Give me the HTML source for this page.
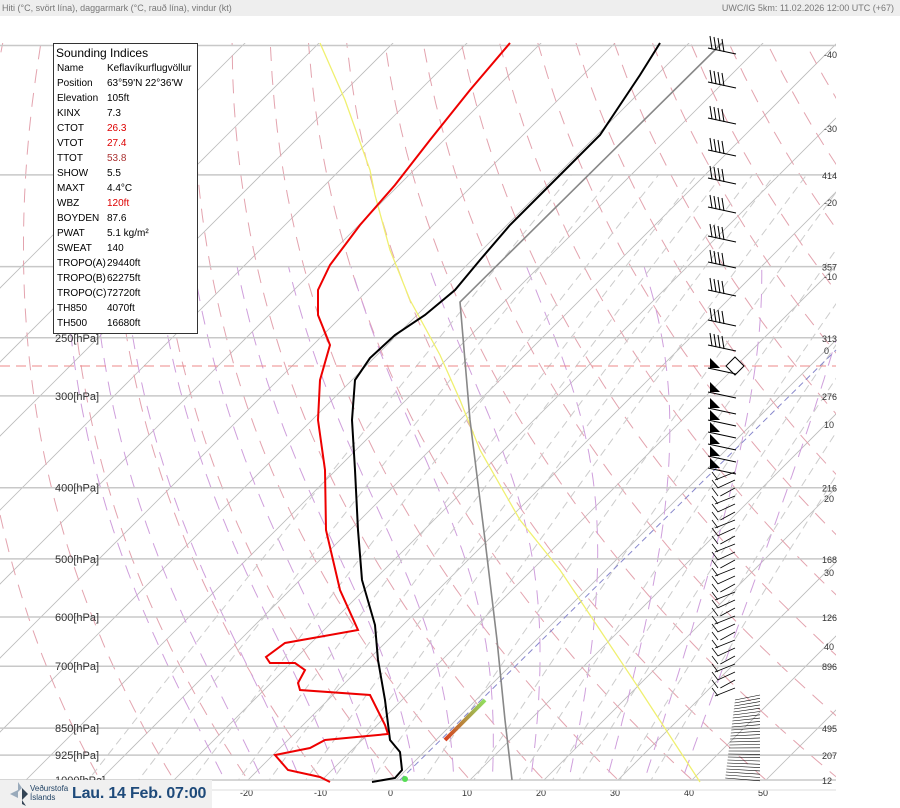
<!DOCTYPE html>
<html><head><meta charset="utf-8"><style>
body{margin:0;width:900px;height:808px;overflow:hidden;background:#fff;font-family:"Liberation Sans",sans-serif;position:relative}
#hdr{position:absolute;left:0;top:0;width:900px;height:16px;background:#eeeeee;font-size:9px;color:#777;line-height:16px}
#leg{position:absolute;left:53px;top:43px;width:143px;height:289px;border:1px solid #333;background:#fff;font-size:10px}
#leg .t{font-size:12px;margin:2px 0 1px 2px}
#leg .r{height:15px;line-height:15px;white-space:nowrap}
#leg .r span{display:inline-block;width:50px;padding-left:3px}
.red{color:#d00}
#logo{position:absolute;left:0;top:780px;width:212px;height:28px;background:#f0f0f0;white-space:nowrap}
</style></head><body>
<div id="hdr"><span style="position:absolute;left:2px">Hiti (°C, svört lína), daggarmark (°C, rauð lína), vindur (kt)</span><span style="position:absolute;right:6px">UWC/IG 5km: 11.02.2026 12:00 UTC (+67)</span></div>
<svg id="s" width="900" height="808" style="position:absolute;left:0;top:0">
<defs><clipPath id="c"><rect x="0" y="43" width="836" height="737"/></clipPath>
<linearGradient id="g" x1="0" y1="1" x2="1" y2="0"><stop offset="0" stop-color="#d84020"/><stop offset="1" stop-color="#90e060"/></linearGradient></defs>
<g id="bg" clip-path="url(#c)"></g>
<g id="fg"></g>
</svg>
<div id="leg">
<div class="t">Sounding Indices</div>
<div class="r"><span>Name</span>Keflavíkurflugvöllur</div>
<div class="r"><span>Position</span>63°59'N 22°36'W</div>
<div class="r"><span>Elevation</span>105ft</div>
<div class="r"><span>KINX</span>7.3</div>
<div class="r"><span>CTOT</span><b class="red" style="font-weight:normal">26.3</b></div>
<div class="r"><span>VTOT</span><b class="red" style="font-weight:normal">27.4</b></div>
<div class="r"><span>TTOT</span><b style="font-weight:normal;color:#a33">53.8</b></div>
<div class="r"><span>SHOW</span>5.5</div>
<div class="r"><span>MAXT</span>4.4°C</div>
<div class="r"><span>WBZ</span><b class="red" style="font-weight:normal">120ft</b></div>
<div class="r"><span>BOYDEN</span>87.6</div>
<div class="r"><span>PWAT</span>5.1 kg/m²</div>
<div class="r"><span>SWEAT</span>140</div>
<div class="r"><span>TROPO(A)</span>29440ft</div>
<div class="r"><span>TROPO(B)</span>62275ft</div>
<div class="r"><span>TROPO(C)</span>72720ft</div>
<div class="r"><span>TH850</span>4070ft</div>
<div class="r"><span>TH500</span>16680ft</div>
</div>
<div id="logo">
<svg width="30" height="28" style="position:absolute;left:6px;top:0"><polygon points="4,14 12,10 12,18" fill="#9ab"/><polygon points="16,8 22,14 16,20" fill="#345"/><polygon points="12,2 16,8 12,12" fill="#9ab"/><polygon points="16,20 20,26 16,24" fill="#345"/></svg>
<div style="position:absolute;left:30px;top:4px;font-size:8px;color:#246;line-height:9px">Veðurstofa<br>Íslands</div>
<div style="position:absolute;left:72px;top:5px;font-size:16px;font-weight:bold;color:#1e4a7a;letter-spacing:-0.2px">Lau. 14 Feb. 07:00</div>
</div>
<script>
var NS="http://www.w3.org/2000/svg",bg=document.getElementById('bg'),fg=document.getElementById('fg');
function L(p){return Math.log(1000/p);}
function Y(p){return 780-319*L(p);}
function X(T,p){return 396+7.4*T+319*L(p);}
function el(par,tag,a,txt){var e=document.createElementNS(NS,tag);for(var k in a)e.setAttribute(k,a[k]);if(txt!=null)e.textContent=txt;par.appendChild(e);return e;}
function path(par,pts,a){var d="M"+pts.map(function(q){return q[0].toFixed(1)+","+q[1].toFixed(1)}).join("L");a.d=d;a.fill="none";el(par,'path',a);}
for(var T=-120;T<=60;T+=10){path(bg,[[X(T,1050),Y(1050)],[X(T,90),Y(90)]],{stroke:"#bbb","stroke-width":0.8});}
for(var th=-40;th<=200;th+=10){var pts=[];for(var p=1050;p>=90;p-=10){var t=(th+273.15)*Math.pow(p/1000,0.286)-273.15;pts.push([X(t,p),Y(p)]);}path(bg,pts,{stroke:"#e3a3ae","stroke-width":1,"stroke-dasharray":"14,10"});}
function es(t){return 6.112*Math.exp(17.67*t/(t+243.5));}
for(var t0=-20;t0<=40;t0+=5){var t=t0+273.15,pts=[];for(var p=1050;p>=200;p-=5){var tc=t-273.15,rs=0.622*es(tc)/(p-es(tc));pts.push([X(tc,p),Y(p)]);var dT=(287*t+2.5e6*rs)/(1004+2.5e6*2.5e6*rs*0.622/(287*t*t))/p;t-=dT*5;}path(bg,pts,{stroke:"#cf9fdc","stroke-width":1,"stroke-dasharray":"14,10"});}
[0.1,0.2,0.4,0.7,1,1.5,2,3,5,8,12,16,20,28,36].forEach(function(w){var pts=[];for(var p=1050;p>=150;p-=20){var e=w*p/(622+w),l=Math.log(e/6.112),td=243.5*l/(17.67-l);pts.push([X(td,p),Y(p)]);}path(bg,pts,{stroke:"#ccc","stroke-width":1,"stroke-dasharray":"8,5"});});
var PL=[[100,""],[150,"414"],[200,"357"],[250,"313"],[300,"276"],[400,"216"],[500,"168"],[600,"126"],[700,"896"],[850,"495"],[925,"207"],[1000,"12"]];
PL.forEach(function(a){var y=Y(a[0]);el(fg,'line',{x1:0,x2:836,y1:y,y2:y,stroke:"#c8c8c8","stroke-width":1.5});if(a[1])el(fg,'text',{x:822,y:y+4,"font-size":9,fill:"#333"},a[1]);if(a[0]<=925&&a[0]>=250)el(fg,'text',{x:55,y:y+4,"font-size":11,fill:"#333"},a[0]+"[hPa]");});
el(fg,'text',{x:55,y:784,"font-size":11,fill:"#333"},"1000[hPa]");
[-40,-30,-20,-10,0,10,20,30,40].forEach(function(T){var y=(396+7.4*T+780-826);el(fg,'text',{x:824,y:y+4,"font-size":9,fill:"#333"},T);});
[-20,-10,0,10,20,30,40,50].forEach(function(T){el(fg,'text',{x:X(T,1000)-8,y:796,"font-size":9,fill:"#333"},T);});
el(fg,'line',{x1:0,x2:836,y1:790,y2:790,stroke:"#ddd"});
el(fg,'line',{x1:0,x2:836,y1:366,y2:366,stroke:"#e88","stroke-width":1,"stroke-dasharray":"10,6"});
el(fg,'polygon',{points:"735,357 744,366 735,375 726,366",fill:"#fff",stroke:"#000"});
el(fg,'line',{x1:400,y1:780,x2:836,y2:350,stroke:"#88c","stroke-dasharray":"6,4"});
path(fg,[[320,43],[345,100],[370,170],[375,195],[390,250],[410,300],[440,355],[460,400],[480,450],[520,520],[560,570],[600,630],[640,690],[700,782]],{stroke:"#f0f070","stroke-width":1.3});
path(fg,[[722,43],[460,302],[470,420],[485,540],[497,640],[505,720],[512,780]],{stroke:"#888","stroke-width":1.6});
el(fg,'line',{x1:445,y1:740,x2:485,y2:700,stroke:"url(#g)","stroke-width":4});
el(fg,'circle',{cx:405,cy:779,r:3,fill:"#5d5"});
path(fg,[[660,43],[640,75],[620,105],[600,135],[570,165],[540,195],[510,225],[480,260],[455,290],[425,315],[395,335],[370,358],[355,380],[352,420],[355,470],[358,530],[362,580],[375,625],[378,660],[385,700],[390,740],[400,752],[402,770],[395,778],[372,782]],{stroke:"#000","stroke-width":2});
path(fg,[[510,43],[470,90],[430,140],[395,185],[360,225],[330,265],[318,290],[318,315],[330,345],[320,380],[318,420],[325,470],[326,530],[340,590],[358,630],[285,643],[266,657],[270,663],[295,663],[305,670],[298,683],[300,690],[370,695],[385,725],[388,734],[325,740],[310,748],[275,755],[288,770],[320,777],[330,782]],{stroke:"#e00","stroke-width":2});
var by=[48,82,118,150,178,207,236,262,290,320,345,368,392,408,420,432,444,456,468];
by.forEach(function(y,i){el(fg,'line',{x1:708,y1:y,x2:736,y2:y+6,stroke:"#000"});if(i<11){for(var k=0;k<4;k++){el(fg,'line',{x1:712+k*4,y1:y+1+k,x2:710+k*4,y2:y-12+k,stroke:"#000"});}}else{el(fg,'polygon',{points:(710)+","+(y-10)+" "+(710)+","+y+" "+(720)+","+y,fill:"#000"});}});
for(var y=480;y<700;y+=8){el(fg,'line',{x1:715+(y%24)/3,y1:y,x2:735,y2:y-8,stroke:"#000","stroke-width":0.8});el(fg,'line',{x1:718,y1:y,x2:712,y2:y-8,stroke:"#000","stroke-width":0.8});}
for(var y=700;y<780;y+=3){el(fg,'line',{x1:735-(y-700)/8,y1:y,x2:760,y2:y-5+(y-700)/10,stroke:"#000","stroke-width":0.6});}
</script>
</body></html>
